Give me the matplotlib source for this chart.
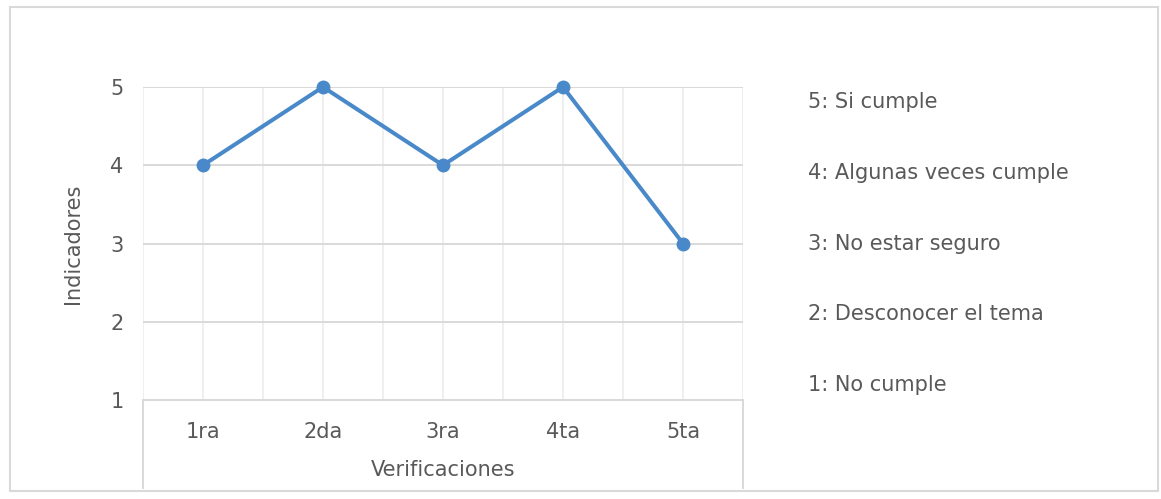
import numpy as np
import matplotlib.pyplot as plt
from matplotlib.patches import Rectangle

# datos de las verificaciones
verificaciones = ['1ra', '2da', '3ra', '4ta', '5ta']
indicadores = [4, 5, 4, 5, 3]
escala = ['5: Si cumple', '4: Algunas veces cumple', '3: No estar seguro',
          '2: Desconocer el tema', '1: No cumple']

plt.rcParams['font.family'] = ['DejaVu Sans']
gris = '#595959'
fs = 15

fig = plt.figure(figsize=[11.61, 4.99], dpi=100)
ax = fig.add_axes([143/1161, 1-400/499, 600/1161, 313/499])

x = np.arange(1, len(verificaciones)+1)
ax.plot(x, indicadores, color='#4a89c9', linewidth=2.9, marker='o',
        markersize=9, zorder=3, clip_on=False)

ax.set_xlim(0.5, 5.5)
ax.set_ylim(1, 5)
ax.set_yticks([1, 2, 3, 4, 5])
ax.set_xticks(x)
ax.set_xticklabels(verificaciones)
ax.tick_params(length=0, labelsize=fs, labelcolor=gris)
ax.tick_params(axis='x', pad=16)
ax.tick_params(axis='y', pad=14)

# rejilla: verticales en centros y bordes de categoria
for v in np.arange(0.5, 5.6, 0.5):
    ax.axvline(v, color='#ececec', linewidth=1.2, zorder=1)
for h in [2, 3, 4, 5]:
    ax.axhline(h, color='#d9d9d9', linewidth=1.4, zorder=1)

for s in ['top', 'right', 'left']:
    ax.spines[s].set_visible(False)
ax.spines['bottom'].set_color('#d9d9d9')
ax.spines['bottom'].set_linewidth(1.4)

# bordes del eje de categorias hacia abajo
for xv in [0.5, 5.5]:
    ax.plot([xv, xv], [1, -0.12], color='#d9d9d9', linewidth=1.4,
            clip_on=False, zorder=1)

ax.set_xlabel('Verificaciones', fontsize=fs, color=gris, labelpad=13)
ax.set_ylabel('Indicadores', fontsize=fs, color=gris, labelpad=20)

# escala de valores a la derecha
for i, t in enumerate(escala):
    fig.text(808/1161, 1-(102+70.8*i)/499, t, fontsize=fs, color=gris,
             va='center', ha='left')

# marco del grafico
fig.patches.append(Rectangle((10/1161, 8/499), 1148/1161, 1-15/499,
                             transform=fig.transFigure, fill=False,
                             edgecolor='#d9d9d9', linewidth=1.5))

fig.savefig('out.png', dpi=100)
